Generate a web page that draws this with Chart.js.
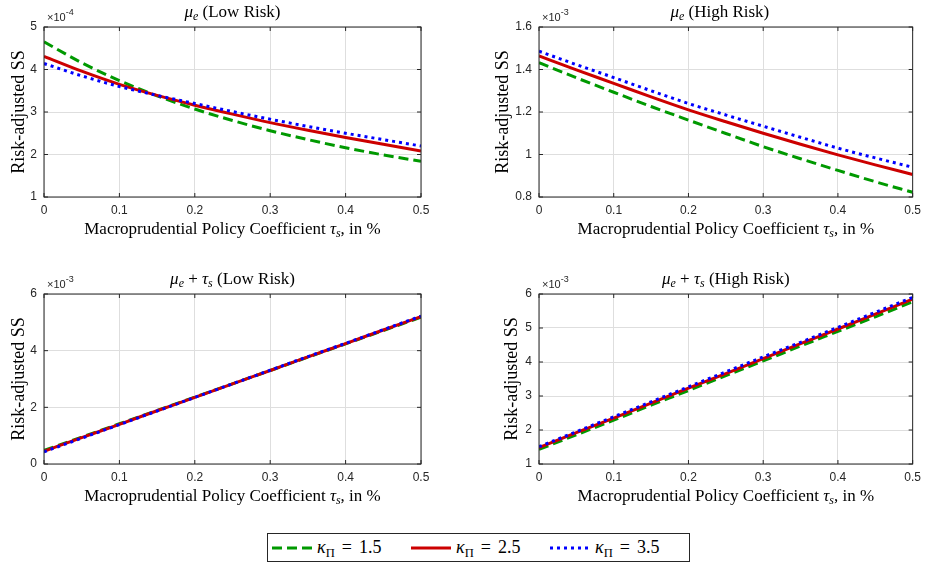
<!DOCTYPE html>
<html>
<head>
<meta charset="utf-8">
<script src="https://cdn.jsdelivr.net/npm/chart.js@4.4.0/dist/chart.umd.min.js"></script>
<style>
	body { margin: 0; background: #fff; width: 927px; height: 562px; position: relative; overflow: hidden; }
	.panel { position: absolute; }
	#legend-container {
		position: absolute; left: 267px; top: 533px; width: 421px; height: 27px;
		border: 1px solid #262626; background: #fff;
		font-family: "Liberation Serif", "Times New Roman", serif; font-size: 18px; color: #000;
	}
	#legend-container sub { font-size: 0.7em; vertical-align: -0.3em; line-height: 0; }
	#legend-container .eq { margin: 0 7px; }
</style>
</head>
<body>
<canvas class="panel" id="muLow" width="465" height="245" style="left:0;top:0"></canvas>
<canvas class="panel" id="muHigh" width="457" height="245" style="left:470px;top:0"></canvas>
<canvas class="panel" id="bothLow" width="465" height="245" style="left:0;top:267px"></canvas>
<canvas class="panel" id="bothHigh" width="457" height="245" style="left:470px;top:267px"></canvas>
<div id="legend-container"></div>

<script>
// policy coefficient grid (x axis, in %)
const tauS = [0, 0.05, 0.1, 0.15, 0.2, 0.25, 0.3, 0.35, 0.4, 0.45, 0.5];
const kappaValues = ["1.5", "2.5", "3.5"];

// mu_e only, low risk (x 1e-4)
const muLowK15 = [4.65, 4.16, 3.74, 3.38, 3.07, 2.80, 2.56, 2.35, 2.16, 1.99, 1.84];
const muLowK25 = [4.31, 3.96, 3.65, 3.39, 3.16, 2.95, 2.75, 2.57, 2.40, 2.24, 2.08];
const muLowK35 = [4.14, 3.85, 3.60, 3.39, 3.20, 3.01, 2.83, 2.66, 2.50, 2.35, 2.20];

// mu_e only, high risk (x 1e-3)
const muHighK15 = [1.432, 1.361, 1.293, 1.226, 1.162, 1.099, 1.037, 0.980, 0.925, 0.872, 0.822];
const muHighK25 = [1.464, 1.398, 1.335, 1.271, 1.210, 1.154, 1.100, 1.048, 0.998, 0.951, 0.906];
const muHighK35 = [1.486, 1.423, 1.362, 1.300, 1.240, 1.186, 1.133, 1.081, 1.030, 0.984, 0.940];

// mu_e + tau_s, low risk (x 1e-3)
const bothLowK15 = [0.48, 0.95, 1.42, 1.89, 2.36, 2.83, 3.30, 3.77, 4.24, 4.71, 5.18];
const bothLowK25 = [0.45, 0.93, 1.40, 1.88, 2.35, 2.83, 3.30, 3.78, 4.25, 4.73, 5.20];
const bothLowK35 = [0.43, 0.91, 1.39, 1.87, 2.35, 2.83, 3.31, 3.79, 4.26, 4.74, 5.22];

// mu_e + tau_s, high risk (x 1e-3)
const bothHighK15 = [1.43, 1.86, 2.29, 2.73, 3.16, 3.60, 4.03, 4.47, 4.90, 5.33, 5.77];
const bothHighK25 = [1.48, 1.92, 2.35, 2.79, 3.23, 3.66, 4.10, 4.54, 4.97, 5.41, 5.85];
const bothHighK35 = [1.51, 1.95, 2.39, 2.83, 3.27, 3.71, 4.15, 4.58, 5.02, 5.46, 5.90];

const SERIF = '"Liberation Serif", "Times New Roman", serif';
const SANS = '"Liberation Sans", Arial, sans-serif';
const INK = "rgb(38,38,38)";
const GRID = "rgb(222,222,222)";

const seriesStyle = [
	{ color: "rgb(0,153,0)", dash: [10, 5], order: 3 },
	{ color: "rgb(204,0,0)", dash: [], order: 2 },
	{ color: "rgb(0,0,255)", dash: [3, 4], order: 1 },
];

// text runs: {t, i: italic, sub: subscript}
function drawRich(ctx, parts, x, y, size) {
	const fontFor = (p) => `${p.i ? "italic " : ""}${p.sub ? size * 0.7 : size}px ${SERIF}`;
	let total = 0;
	parts.forEach((p) => {
		ctx.font = fontFor(p);
		p.w = ctx.measureText(p.t).width;
		total += p.w;
	});
	let cx = x - total / 2;
	parts.forEach((p) => {
		ctx.font = fontFor(p);
		ctx.fillText(p.t, cx, p.sub ? y + size * 0.2 : y);
		cx += p.w;
	});
}

const xLabel = [
	{ t: "Macroprudential Policy Coefficient " },
	{ t: "τ", i: true },
	{ t: "s", i: true, sub: true },
	{ t: ", in %" },
];

// box, inward ticks, title, exponent and x label
const framePlugin = {
	id: "frame",
	afterDraw(chart, args, opts) {
		const { ctx, chartArea: a, scales } = chart;
		ctx.save();
		ctx.strokeStyle = INK;
		ctx.lineWidth = 1;
		ctx.strokeRect(a.left, a.top, a.right - a.left, a.bottom - a.top);

		ctx.beginPath();
		scales.x.ticks.forEach((t) => {
			const px = scales.x.getPixelForValue(t.value);
			ctx.moveTo(px, a.bottom);
			ctx.lineTo(px, a.bottom - 4);
			ctx.moveTo(px, a.top);
			ctx.lineTo(px, a.top + 4);
		});
		scales.y.ticks.forEach((t) => {
			const py = scales.y.getPixelForValue(t.value);
			ctx.moveTo(a.left, py);
			ctx.lineTo(a.left + 4, py);
			ctx.moveTo(a.right, py);
			ctx.lineTo(a.right - 4, py);
		});
		ctx.stroke();

		ctx.fillStyle = "#000";
		ctx.textBaseline = "alphabetic";
		ctx.textAlign = "left";
		drawRich(ctx, opts.title, (a.left + a.right) / 2 + (opts.titleShift || 0), a.top - 10, 17);
		drawRich(ctx, xLabel, (a.left + a.right) / 2, a.bottom + 37, 17);

		ctx.fillStyle = INK;
		ctx.font = `11px ${SANS}`;
		ctx.fillText("×10", a.left + 3, a.top - 6);
		const w = ctx.measureText("×10").width;
		ctx.font = `9px ${SANS}`;
		ctx.fillText(opts.exponent, a.left + 3 + w, a.top - 12);
		ctx.restore();
	},
};

const panels = [
	{
		id: "muLow", exponent: "-4", min: 1, max: 5, step: 1,
		title: [{ t: "μ", i: true }, { t: "e", i: true, sub: true }, { t: " (Low Risk)" }],
		series: [muLowK15, muLowK25, muLowK35],
		axisWidth: 44, padRight: 44, titleX: 8,
	},
	{
		id: "muHigh", exponent: "-3", min: 0.8, max: 1.6, step: 0.2,
		title: [{ t: "μ", i: true }, { t: "e", i: true, sub: true }, { t: " (High Risk)" }],
		series: [muHighK15, muHighK25, muHighK35],
		axisWidth: 69, padRight: 10, titleX: 22, titleShift: -6,
	},
	{
		id: "bothLow", exponent: "-3", min: 0, max: 6, step: 2,
		title: [{ t: "μ", i: true }, { t: "e", i: true, sub: true }, { t: " + " }, { t: "τ", i: true }, { t: "s", i: true, sub: true }, { t: " (Low Risk)" }],
		series: [bothLowK15, bothLowK25, bothLowK35],
		axisWidth: 44, padRight: 44, titleX: 8,
	},
	{
		id: "bothHigh", exponent: "-3", min: 1, max: 6, step: 1,
		title: [{ t: "μ", i: true }, { t: "e", i: true, sub: true }, { t: " + " }, { t: "τ", i: true }, { t: "s", i: true, sub: true }, { t: " (High Risk)" }],
		series: [bothHighK15, bothHighK25, bothHighK35],
		axisWidth: 69, padRight: 10, titleX: 31,
	},
];

const tickLabel = (v) => String(parseFloat(v.toFixed(3)));

function makePanel(p) {
	const datasets = p.series.map((values, k) => ({
		label: "κΠ = " + kappaValues[k],
		data: values.map((v, i) => ({ x: tauS[i], y: v })),
		borderColor: seriesStyle[k].color,
		backgroundColor: seriesStyle[k].color,
		borderDash: seriesStyle[k].dash,
		borderWidth: 3,
		borderCapStyle: "butt",
		pointRadius: 0,
		cubicInterpolationMode: "monotone",
		order: seriesStyle[k].order,
		fill: false,
	}));

	return new Chart(document.getElementById(p.id), {
		type: "line",
		data: { datasets },
		options: {
			responsive: false,
			animation: false,
			layout: { padding: { top: 27, right: p.padRight, left: 0, bottom: 0 } },
			plugins: {
				legend: { display: false },
				tooltip: { enabled: false },
				frame: { title: p.title, exponent: p.exponent, titleShift: p.titleShift },
			},
			scales: {
				x: {
					type: "linear",
					min: 0,
					max: 0.5,
					ticks: { stepSize: 0.1, color: INK, font: { family: SANS, size: 12 }, padding: 6, maxRotation: 0, callback: tickLabel },
					grid: { color: GRID, drawTicks: false },
					border: { display: false },
					afterFit(s) { s.height = 48; },
				},
				y: {
					min: p.min,
					max: p.max,
					ticks: { stepSize: p.step, color: INK, font: { family: SANS, size: 12 }, padding: 7, callback: tickLabel },
					grid: { color: GRID, drawTicks: false },
					border: { display: false },
					title: {
						display: true,
						text: "Risk-adjusted SS",
						color: "#000",
						font: { family: SERIF, size: 18 },
						padding: { top: p.titleX, bottom: 0 },
					},
					afterFit(s) { s.width = p.axisWidth; },
				},
			},
		},
		plugins: [framePlugin],
	});
}

const charts = panels.map(makePanel);

// shared legend under the four panels
function buildLegend(chart) {
	const box = document.getElementById("legend-container");
	const list = document.createElement("ul");
	list.style.display = "flex";
	list.style.margin = 0;
	list.style.padding = "0 0 0 4px";
	list.style.height = "100%";
	list.style.alignItems = "center";
	box.appendChild(list);

	chart.data.datasets.forEach((ds, k) => {
		const li = document.createElement("li");
		li.style.display = "flex";
		li.style.alignItems = "center";
		li.style.listStyle = "none";
		li.style.width = "140px";

		const sample = document.createElement("canvas");
		sample.width = 40;
		sample.height = 8;
		sample.style.marginRight = "5px";
		const c = sample.getContext("2d");
		c.strokeStyle = ds.borderColor;
		c.lineWidth = 3;
		c.setLineDash(ds.borderDash);
		c.beginPath();
		c.moveTo(0, 4);
		c.lineTo(40, 4);
		c.stroke();

		const text = document.createElement("span");
		text.innerHTML = `<i>κ</i><sub>Π</sub><span class="eq">=</span>${kappaValues[k]}`;

		li.appendChild(sample);
		li.appendChild(text);
		list.appendChild(li);
	});
}

buildLegend(charts[0]);
</script>
</body>
</html>
